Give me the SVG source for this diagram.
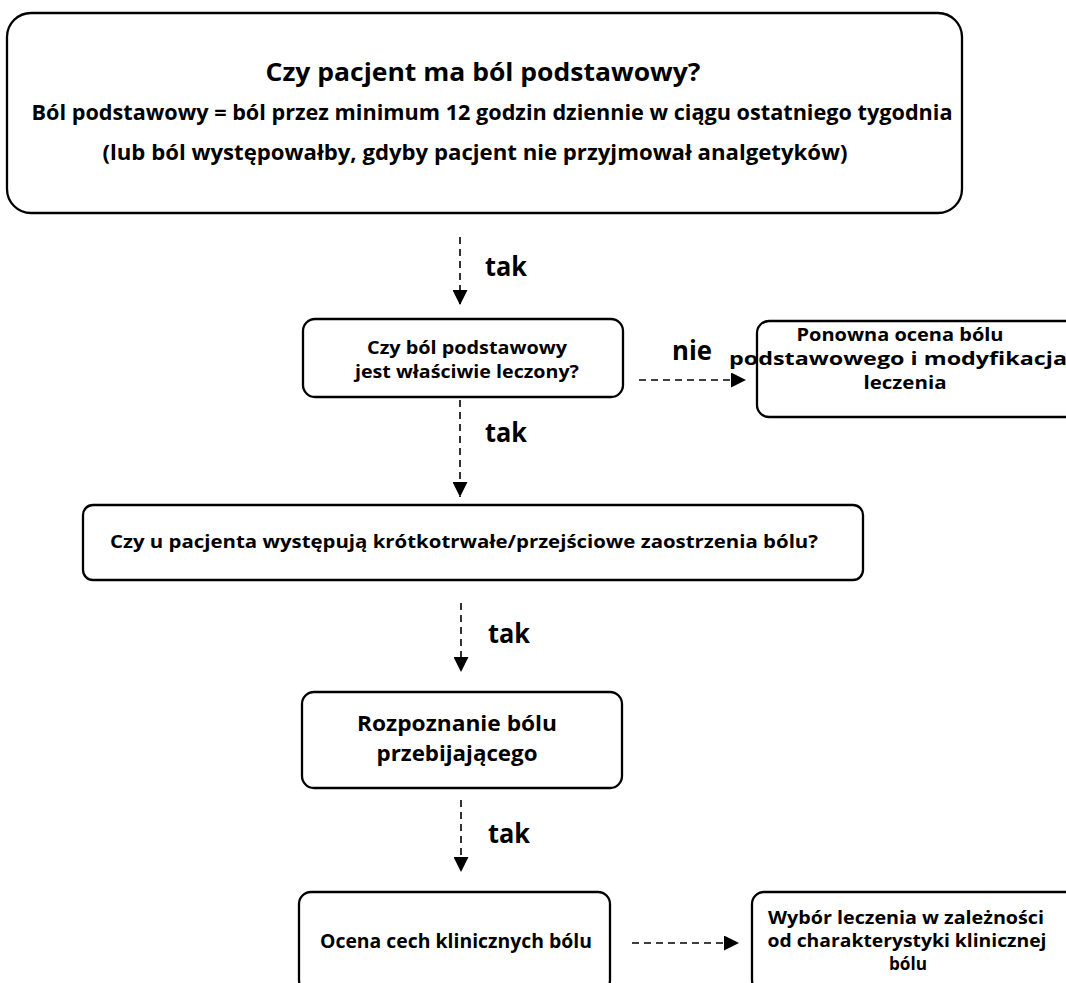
<svg xmlns="http://www.w3.org/2000/svg" width="1066" height="983" viewBox="0 0 1066 983">
  <style>
    .box { fill: #ffffff; stroke: #000000; stroke-width: 2.3; }
    .txt { font-family: "Open Sans", "Liberation Sans", sans-serif; font-weight: bold; fill: #000000; text-anchor: middle; }
    .lbl { font-family: "Open Sans", "Liberation Sans", sans-serif; font-weight: bold; fill: #000000; font-size: 26px; }
    .edge { fill: none; stroke: #000000; stroke-width: 1.6; stroke-dasharray: 7 5; }
  </style>
  <defs>
    <marker id="arrow" viewBox="0 0 14 14" refX="14" refY="7" markerWidth="15" markerHeight="15" markerUnits="userSpaceOnUse" orient="auto">
      <path d="M0,0 L14,7 L0,14 Z" fill="#000000"/>
    </marker>
  </defs>
  <rect width="1066" height="983" fill="#ffffff"/>

  <g id="q-bol-podstawowy">
    <rect class="box" x="7" y="13" width="955" height="200" rx="24"/>
    <text class="txt" x="483" y="81" font-size="25.5" textLength="435" lengthAdjust="spacingAndGlyphs">Czy pacjent ma ból podstawowy?</text>
    <text class="txt" x="492" y="120" font-size="20.5" textLength="921" lengthAdjust="spacingAndGlyphs">Ból podstawowy = ból przez minimum 12 godzin dziennie w ciągu ostatniego tygodnia</text>
    <text class="txt" x="475" y="160" font-size="20.5" textLength="745" lengthAdjust="spacingAndGlyphs">(lub ból występowałby, gdyby pacjent nie przyjmował analgetyków)</text>
  </g>

  <g id="q-leczenie">
    <rect class="box" x="303" y="319" width="320" height="78" rx="12"/>
    <text class="txt" x="467" y="354" font-size="18" textLength="200" lengthAdjust="spacingAndGlyphs">Czy ból podstawowy</text>
    <text class="txt" x="467" y="378" font-size="18" textLength="224" lengthAdjust="spacingAndGlyphs">jest właściwie leczony?</text>
  </g>

  <g id="ponowna-ocena">
    <rect class="box" x="757" y="321" width="330" height="96" rx="12"/>
    <text class="txt" x="900" y="341" font-size="18" textLength="207" lengthAdjust="spacingAndGlyphs">Ponowna ocena bólu</text>
    <text class="txt" x="898" y="365" font-size="18" textLength="338" lengthAdjust="spacingAndGlyphs">podstawowego i modyfikacja</text>
    <text class="txt" x="905" y="389" font-size="18" textLength="83" lengthAdjust="spacingAndGlyphs">leczenia</text>
  </g>

  <g id="q-zaostrzenia">
    <rect class="box" x="83" y="505" width="780" height="75" rx="10"/>
    <text class="txt" x="464" y="548" font-size="18.5" textLength="708" lengthAdjust="spacingAndGlyphs">Czy u pacjenta występują krótkotrwałe/przejściowe zaostrzenia bólu?</text>
  </g>

  <g id="rozpoznanie">
    <rect class="box" x="302" y="692" width="320" height="96" rx="12"/>
    <text class="txt" x="457" y="731" font-size="21.5" textLength="200" lengthAdjust="spacingAndGlyphs">Rozpoznanie bólu</text>
    <text class="txt" x="457" y="761" font-size="21.5" textLength="161" lengthAdjust="spacingAndGlyphs">przebijającego</text>
  </g>

  <g id="ocena-cech">
    <rect class="box" x="299" y="892" width="311" height="100" rx="12"/>
    <text class="txt" x="456" y="948" font-size="19" textLength="272" lengthAdjust="spacingAndGlyphs">Ocena cech klinicznych bólu</text>
  </g>

  <g id="wybor-leczenia">
    <rect class="box" x="752" y="892" width="330" height="100" rx="12"/>
    <text class="txt" x="906" y="924" font-size="18.5" textLength="276" lengthAdjust="spacingAndGlyphs">Wybór leczenia w zależności</text>
    <text class="txt" x="907" y="947" font-size="18.5" textLength="279" lengthAdjust="spacingAndGlyphs">od charakterystyki klinicznej</text>
    <text class="txt" x="908" y="970" font-size="18.5" textLength="38" lengthAdjust="spacingAndGlyphs">bólu</text>
  </g>

  <g id="connectors">
    <line class="edge" x1="460" y1="237" x2="460" y2="305" marker-end="url(#arrow)"/>
    <text class="lbl" x="485" y="276" textLength="42" lengthAdjust="spacingAndGlyphs">tak</text>

    <line class="edge" x1="639" y1="380" x2="746" y2="380" marker-end="url(#arrow)"/>
    <text class="lbl" x="672" y="360" textLength="40" lengthAdjust="spacingAndGlyphs">nie</text>

    <line class="edge" x1="460" y1="400" x2="460" y2="497" marker-end="url(#arrow)"/>
    <text class="lbl" x="485" y="442" textLength="42" lengthAdjust="spacingAndGlyphs">tak</text>

    <line class="edge" x1="461" y1="603" x2="461" y2="672" marker-end="url(#arrow)"/>
    <text class="lbl" x="488" y="643" textLength="42" lengthAdjust="spacingAndGlyphs">tak</text>

    <line class="edge" x1="461" y1="800" x2="461" y2="872" marker-end="url(#arrow)"/>
    <text class="lbl" x="488" y="843" textLength="42" lengthAdjust="spacingAndGlyphs">tak</text>

    <line class="edge" x1="632" y1="943" x2="739" y2="943" marker-end="url(#arrow)"/>
  </g>
</svg>
